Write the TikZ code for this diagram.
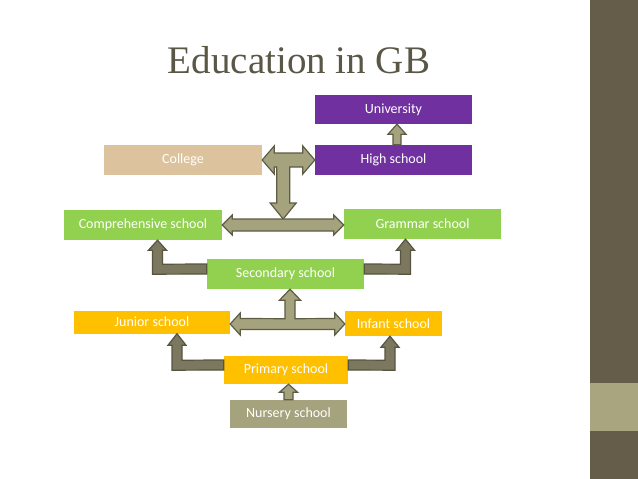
\documentclass[tikz,border=0pt]{standalone}
\usepackage{fontspec}
\setmainfont{Carlito}
\newfontfamily\titlefont{Liberation Serif}
\usetikzlibrary{positioning}
\usetikzlibrary{calc}
\definecolor{titleGrey}{HTML}{5B5747}
\definecolor{barDark}{HTML}{655D49}
\definecolor{barLight}{HTML}{A8A57F}
\definecolor{uniPurple}{HTML}{7030A0}
\definecolor{collegeTan}{HTML}{DDC39D}
\definecolor{schoolGreen}{HTML}{92D050}
\definecolor{schoolOrange}{HTML}{FFC000}
\definecolor{nurseryOlive}{HTML}{A5A27E}
\definecolor{flowFill}{HTML}{A5A27E}
\definecolor{flowDraw}{HTML}{5E5C45}
\definecolor{splitFill}{HTML}{7B785F}
\definecolor{splitDraw}{HTML}{57553F}
\pgfdeclareradialshading{vignette}{\pgfpoint{0bp}{0bp}}{color(0bp)=(white); color(38bp)=(white); color(55bp)=(black!5); color(72bp)=(black!11)}
\tikzset{
  box/.style        = { rectangle, inner sep=0pt, text=white, font=\fontsize{14}{16}\selectfont },
  higher/.style     = { box, fill=uniPurple },
  further/.style    = { box, fill=collegeTan },
  senior/.style     = { box, fill=schoolGreen },
  junior/.style     = { box, fill=schoolOrange },
  early/.style      = { box, fill=nurseryOlive },
  flowarrow/.style  = { fill=flowFill, draw=flowDraw, line width=1.2pt },
  splitarrow/.style = { fill=splitFill, draw=splitDraw, line width=1.2pt }
}
\begin{document}
\begin{tikzpicture}[x=1pt,y=-1pt]
  \useasboundingbox (0,0) rectangle (638,479);
  \shade[shading=vignette] (0,0) rectangle (590,479);
  \fill[barDark]  (590,0)   rectangle (638,479);
  \fill[barLight] (590,383) rectangle (638,431);

  \node (title) [anchor=base,text=titleGrey,font=\titlefont\fontsize{39}{44}\selectfont] at (299,73) {Education in GB};

  \node (uni)  [higher,minimum width=157pt,minimum height=29pt]  at (393.5,109.5) {University};
  \node (high) [higher,minimum width=157pt,minimum height=30pt]  at (393.5,160)   {High school};
  \node (col)  [further,minimum width=158pt,minimum height=30pt] at (183,160)     {College};
  \node (comp) [senior,minimum width=158pt,minimum height=30pt]  at (143,225)     {Comprehensive school};
  \node (gram) [senior,minimum width=157pt,minimum height=30pt]  at (422.5,224)   {Grammar school};
  \node (sec)  [senior,minimum width=157pt,minimum height=30pt]  at (285.5,274)   {Secondary school};
  \node (jun)  [junior,minimum width=156pt,minimum height=23pt]  at (152,322)     {Junior school};
  \node (inf)  [junior,minimum width=97pt,minimum height=25pt]   at (393.5,323.5) {Infant school};
  \node (pri)  [junior,minimum width=124pt,minimum height=28pt]  at (286,370)     {Primary school};
  \node (nur)  [early,minimum width=117pt,minimum height=28pt]   at (288.5,414)   {Nursery school};

  % high school -> university
  \draw [flowarrow] ($(high.north)+(-0.5,0)$) -- ($(uni.south)+(-0.5,10)$) -- ++(-5,0) -- ($(uni.south)+(3.5,0)$) -- ++(9,10) -- ++(-5,0) -- ($(high.north)+(7.5,0)$) -- cycle;
  % college <-> high school, down to the secondary split
  \draw [flowarrow] (col.east) -- ++(12,-14) -- ++(0,7) -- ($(high.west)+(-12,-7)$) -- ++(0,-7) -- (high.west) -- ++(-12,14) -- ++(0,-7)
    -- ($(col.east)+(27.5,7)$) -- ++(0,36) -- ++(6.5,0) -- ($(col.east|-comp.east)+(21,-6)$) -- ++(-13,-16) -- ++(6.5,0) -- ++(0,-36)
    -- ($(col.east)+(12,7)$) -- ++(0,7) -- cycle;
  \draw [flowarrow] (comp.east) -- ++(10,-10) -- ++(0,4) -- ($(gram.west|-comp.east)+(-10,-6)$) -- ++(0,-4) -- (gram.west|-comp.east)
    -- ++(-10,10) -- ++(0,-4) -- ($(comp.east)+(10,6)$) -- ++(0,4) -- cycle;
  % secondary school branches
  \draw [splitarrow] ($(sec.west)+(0,-10)$) -- ($(comp.south)+(19.5,24)$) -- ++(0,-14) -- ++(4,0) -- ($(comp.south)+(14.5,0)$) -- ++(-9,10) -- ++(4,0) -- ++(0,24) -- (sec.west) -- cycle;
  \draw [splitarrow] ($(sec.east)+(0,-10)$) -- ($(gram.south)+(-22,25)$) -- ++(0,-14) -- ++(-4,0) -- ($(gram.south)+(-17,0)$) -- ++(9,11) -- ++(-4,0) -- ++(0,24) -- (sec.east) -- cycle;
  % junior <-> infant, up to secondary
  \draw [flowarrow] ($(jun.east)+(0,2)$) -- ++(10,-11) -- ++(0,5.5) -- ($(sec.south)+(-0.5,29.5)$) -- ++(0,-18.5) -- ++(-5.5,0) -- ($(sec.south)+(4.5,0)$)
    -- ++(10.5,11) -- ++(-5.5,0) -- ++(0,18.5) -- ($(inf.west)+(-10,-5)$) -- ++(0,-5.5) -- ($(inf.west)+(0,0.5)$) -- ++(-10,11) -- ++(0,-5.5)
    -- ($(jun.east)+(10,7.5)$) -- ++(0,5.5) -- cycle;
  % primary school branches
  \draw [splitarrow] ($(pri.west)+(0,-10)$) -- ($(jun.south)+(30,26.5)$) -- ++(0,-15) -- ++(4,0) -- ($(jun.south)+(25,0)$) -- ++(-9,11.5) -- ++(4,0) -- ++(0,25) -- (pri.west) -- cycle;
  \draw [splitarrow] ($(pri.east)+(0,-10)$) -- ($(inf.south)+(-8.5,24)$) -- ++(0,-13) -- ++(-4,0) -- ($(inf.south)+(-3.5,0)$) -- ++(9,11) -- ++(-4,0) -- ++(0,23) -- (pri.east) -- cycle;
  % nursery -> primary
  \draw [flowarrow] ($(nur.north)+(-4.5,0)$) -- ($(nur.north|-pri.south)+(-4.5,8)$) -- ++(-4.5,0) -- (nur.north|-pri.south) -- ++(9,8) -- ++(-4.5,0) -- ($(nur.north)+(4.5,0)$) -- cycle;
\end{tikzpicture}
\end{document}
